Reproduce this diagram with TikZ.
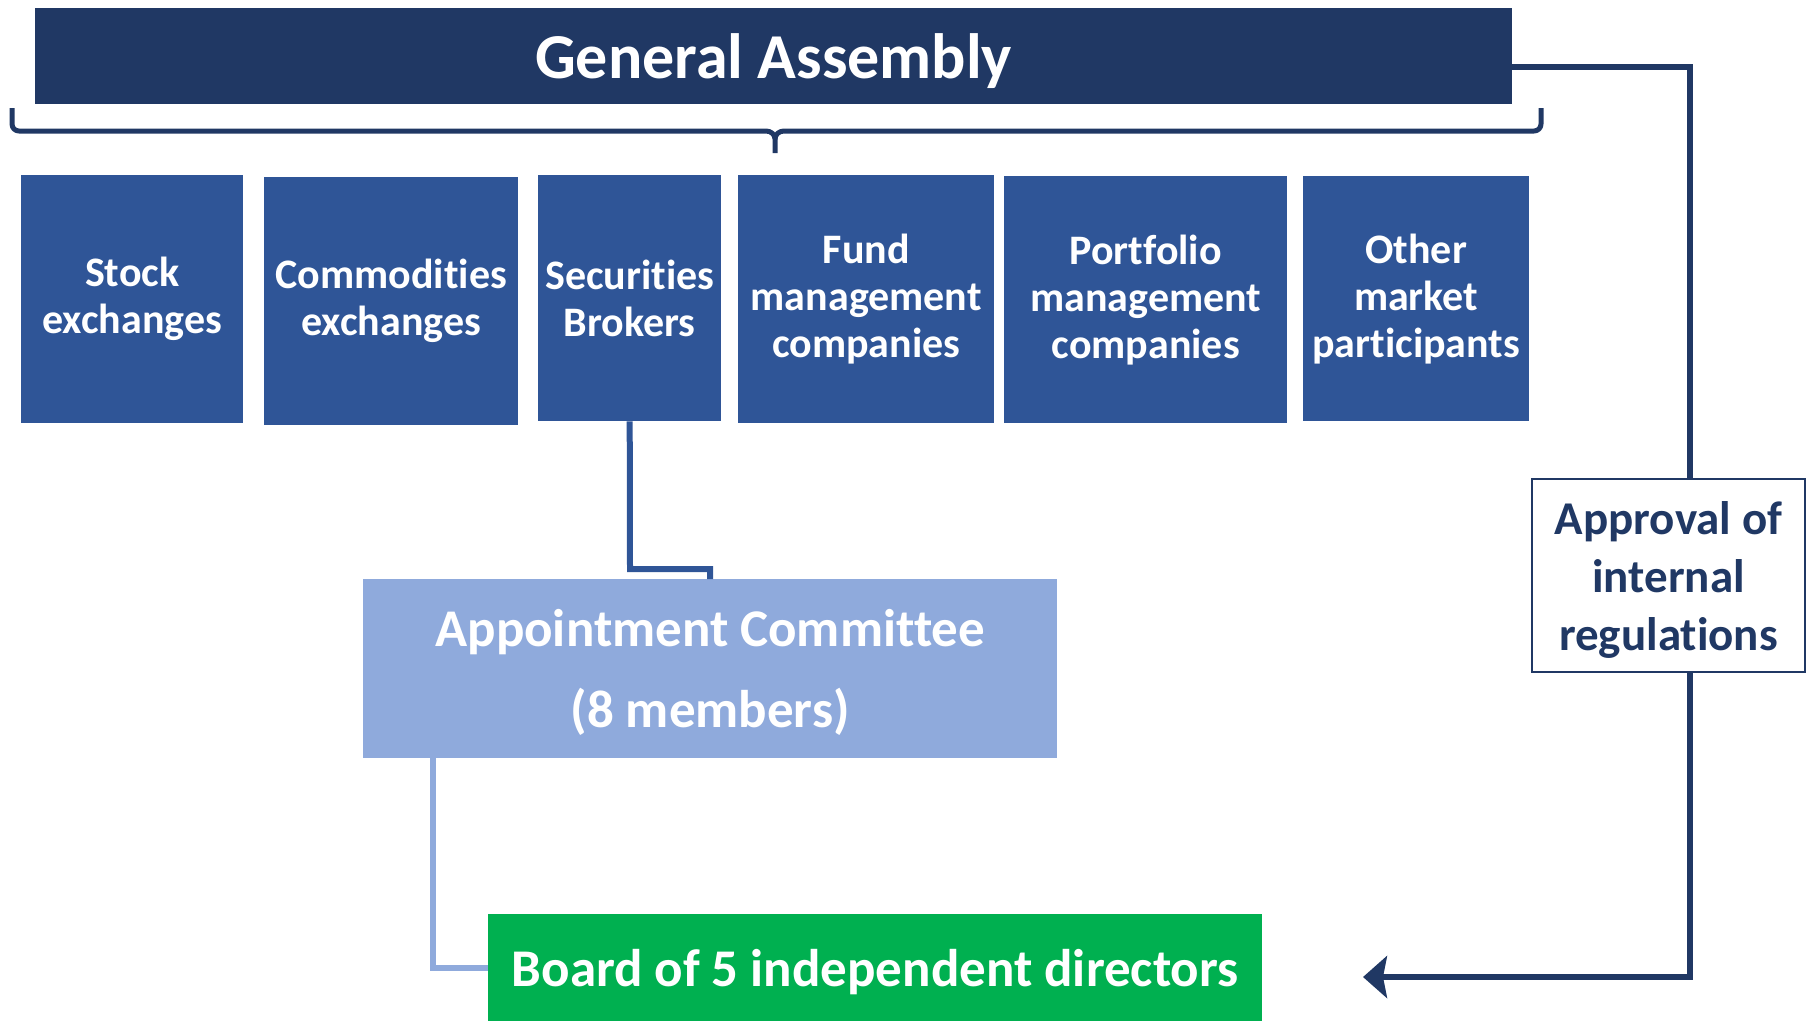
\documentclass[tikz,border=0pt]{standalone}
\usepackage{fontspec}
\setmainfont{Carlito}[Ligatures={NoCommon}]
\usetikzlibrary{arrows.meta}
\definecolor{navy}{HTML}{203864}
\definecolor{midblue}{HTML}{2F5597}
\definecolor{lightblue}{HTML}{8FAADC}
\definecolor{boardgreen}{HTML}{00B050}
\tikzset{
  member/.style={fill=midblue, text=white, align=center, inner sep=0pt,
    anchor=north west, font=\fontsize{42}{47}\selectfont\bfseries},
  panel/.style={anchor=north west, inner sep=0pt},
  caption/.style={align=center, inner sep=0pt, yshift=-4pt},
  link/.style={line width=6pt}
}
\begin{document}
\begin{tikzpicture}[x=1pt, y=-1pt]
\useasboundingbox (0,0) rectangle (1806,1021);

% top body
\node[panel, fill=navy, minimum width=1477pt, minimum height=96pt,
  label={[caption, yshift=-1pt, text=white, font=\fontsize{64}{70}\selectfont\bfseries]center:General Assembly}]
  (ga) at (35,8) {};

% curly bracket grouping the members
\draw[navy, line width=5pt, line join=round]
  (12,108) -- (12,124) to[out=-90,in=180] (19,131) -- (766,131)
  to[out=0,in=90] (775,139) -- (775,153);
\draw[navy, line width=5pt, line join=round]
  (775,139) to[out=90,in=180] (784,131) -- (1534,131)
  to[out=0,in=-90] (1541,124) -- (1541,108);

% member categories
\node[member, minimum width=222pt, minimum height=248pt] (stock) at (21,175) {Stock\\exchanges};
\node[member, minimum width=254pt, minimum height=248pt] (comm) at (264,177) {Commodities\\exchanges};
\node[member, minimum width=183pt, minimum height=246pt] (sec) at (538,175) {Securities\\Brokers};
\node[member, minimum width=256pt, minimum height=248pt] (fund) at (738,175) {Fund\\management\\companies};
\node[member, minimum width=283pt, minimum height=247pt] (port) at (1004,176) {Portfolio\\management\\companies};
\node[member, minimum width=226pt, minimum height=245pt] (other) at (1303,176) {Other\\market\\participants};

% committee and board
\node[panel, fill=lightblue, minimum width=694pt, minimum height=179pt,
  label={[caption, text=white, font=\fontsize{53}{81}\selectfont\bfseries]center:Appointment Committee\\(8 members)}]
  (appt) at (363,579) {};
\node[panel, fill=boardgreen, minimum width=774pt, minimum height=107pt,
  label={[caption, text=white, font=\fontsize{53}{60}\selectfont\bfseries]center:Board of 5 independent directors}]
  (board) at (488,914) {};

% connectors
\coordinate (bend) at (630,569);
\draw[link, midblue] (sec.south) -- (bend) -| (appt.north);
\coordinate (apptfoot) at (433,758);
\draw[link, lightblue] (apptfoot) |- (board.west);

\coordinate (tip) at (1363,977);
\draw[link, navy, -{Stealth[length=24pt,width=42pt,inset=4pt]}]
  (ga.east |- 0,67) -- (1690,67) -- (1690,977) -- (tip);

\node[panel, draw=navy, line width=2pt, fill=white, minimum width=273pt, minimum height=193pt,
  label={[caption, text=navy, font=\fontsize{47}{58}\selectfont\bfseries]center:Approval of\\internal\\regulations}]
  (appr) at (1531,478) {};
\end{tikzpicture}
\end{document}
